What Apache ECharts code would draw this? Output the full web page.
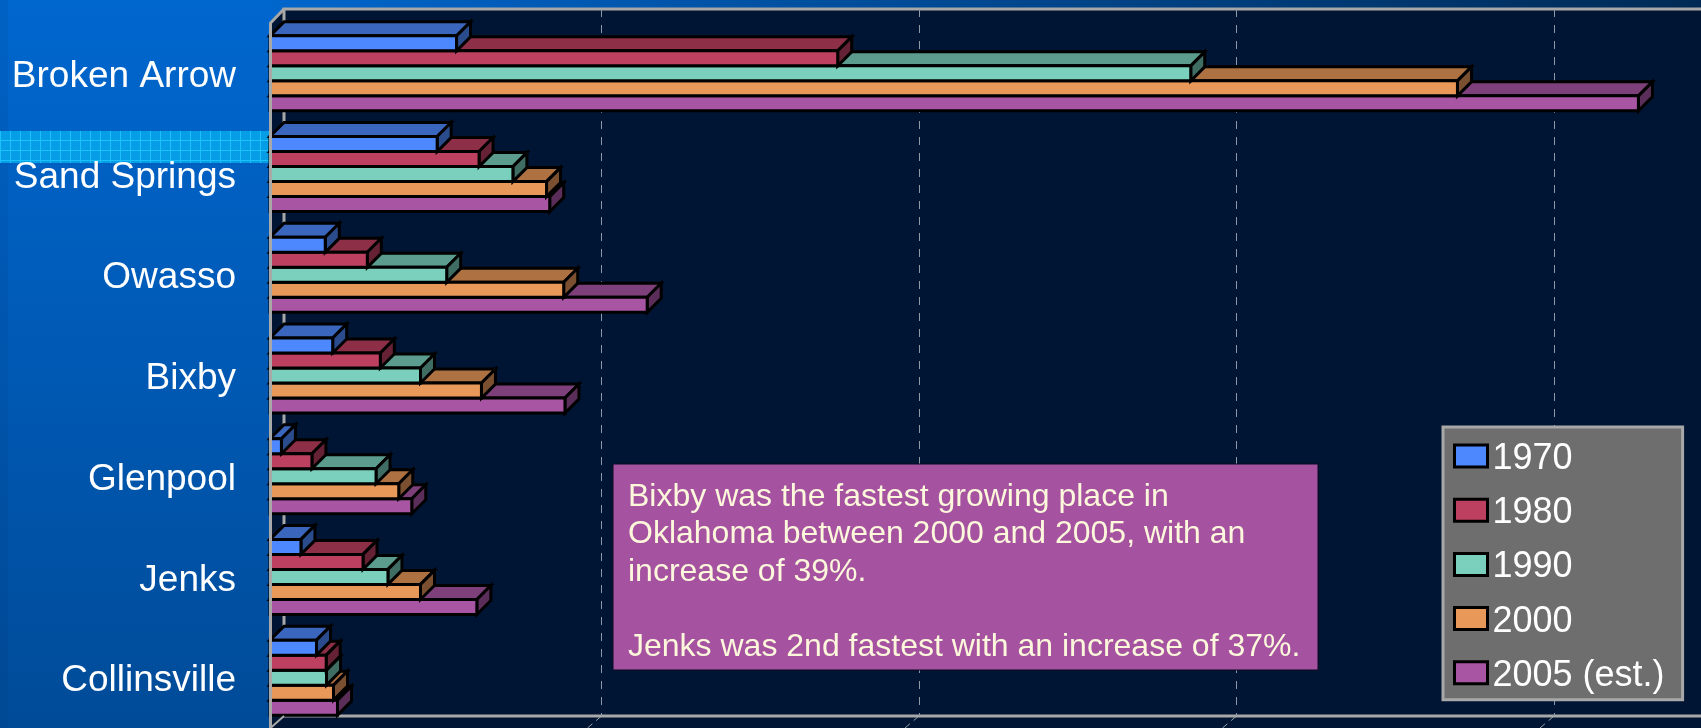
<!DOCTYPE html>
<html>
<head>
<meta charset="utf-8">
<title>Population by city</title>
<style>
  html, body { margin: 0; padding: 0; background: #0066cc; }
  #container { width: 1701px; height: 728px; }
</style>
<script src="https://cdn.jsdelivr.net/npm/echarts@6/dist/echarts.min.js"></script>
</head>
<body>
<div id="container"></div>
<script>
var cities = ['Broken Arrow', 'Sand Springs', 'Owasso', 'Bixby', 'Glenpool', 'Jenks', 'Collinsville'];
var years = ['1970', '1980', '1990', '2000', '2005 (est.)'];

var pop1970 = [11750, 10530, 3480, 3950, 720, 1950, 2930];
var pop1980 = [35760, 13170, 6130, 6950, 2640, 5860, 3540];
var pop1990 = [58000, 15300, 11130, 9480, 6680, 7430, 3560];
var pop2000 = [74800, 17420, 18500, 13320, 8110, 9480, 4000];
var pop2005 = [86200, 17620, 23760, 18580, 8930, 13030, 4250];
var popBySeries = [pop1970, pop1980, pop1990, pop2000, pop2005];

// front, top, side
var shades = [
  ['#4d88ff', '#3a66bd', '#2a4c8c'],
  ['#be4060', '#8c2f47', '#642234'],
  ['#7ad0bd', '#5b9c8e', '#3f6d63'],
  ['#e89858', '#ad7142', '#7b5030'],
  ['#a855a4', '#7e407b', '#5a2e58']
];

var xMax = 100000;
var xStep = 20000;
var tickPx = 317.5;
var depthX = 14;
var depthY = 14;

var note = 'Bixby was the fastest growing place in\nOklahoma between 2000 and 2005, with an\nincrease of 39%.\n\nJenks was 2nd fastest with an increase of 37%.';

var dom = document.getElementById('container');
var myChart = echarts.init(dom, null, { renderer: 'canvas' });

function barItem(i) {
  return function (params, api) {
    var band = api.size([0, 1])[1];
    var h = band * 0.149;
    var base = api.coord([0, api.value(1)]);
    var end = api.coord([api.value(0), api.value(1)]);
    var y0 = base[1] + (i - 2.5) * h;
    var y1 = y0 + h;
    var x0 = base[0];
    var x1 = end[0];
    var stroke = { stroke: '#000', lineWidth: 3, lineJoin: 'miter' };
    function face(points, fill) {
      return {
        type: 'polygon',
        shape: { points: points },
        style: Object.assign({ fill: fill }, stroke)
      };
    }
    return {
      type: 'group',
      children: [
        face([[x0, y0], [x0 + depthX, y0 - depthY], [x1 + depthX, y0 - depthY], [x1, y0]], shades[i][1]),
        face([[x1, y0], [x1 + depthX, y0 - depthY], [x1 + depthX, y1 - depthY], [x1, y1]], shades[i][2]),
        face([[x0, y0], [x1, y0], [x1, y1], [x0, y1]], shades[i][0])
      ]
    };
  };
}

// cyan strip texture
var tex = document.createElement('canvas');
tex.width = 10;
tex.height = 10;
var ctx = tex.getContext('2d');
ctx.fillStyle = '#00a2ea';
ctx.fillRect(0, 0, 10, 10);
ctx.fillStyle = '#0a98e2';
for (var a = 0; a < 10; a++) {
  for (var b = 0; b < 10; b++) {
    if ((a + b) % 2) ctx.fillRect(a, b, 1, 1);
  }
}
ctx.fillStyle = '#1cc0fb';
ctx.fillRect(0, 0, 1, 10);
ctx.fillRect(0, 0, 10, 1);

var floorTicks = [1, 2, 3, 4].map(function (k) {
  return {
    type: 'line',
    z: -1,
    shape: { x1: 284 + k * tickPx, y1: 716, x2: 284 + k * tickPx - depthX, y2: 728 },
    style: { stroke: '#9aa3ad', lineWidth: 1, lineDash: [7, 5] }
  };
});

var option = {
  animation: false,
  graphic: [
    {
      type: 'rect', z: -5, silent: true,
      shape: { x: 0, y: 0, width: 1701, height: 728 },
      style: { fill: new echarts.graphic.LinearGradient(0, 0, 0, 1, [
        { offset: 0, color: '#0067cf' }, { offset: 1, color: '#004b98' }
      ]) }
    },
    {
      type: 'rect', z: -5, silent: true,
      shape: { x: 0, y: 0, width: 8, height: 728 },
      style: { fill: 'rgba(0,40,90,0.08)' }
    },
    {
      type: 'rect', z: -4, silent: true,
      shape: { x: 270, y: 0, width: 1431, height: 10 },
      style: { fill: new echarts.graphic.LinearGradient(0, 0, 1, 0, [
        { offset: 0, color: '#0066cc' }, { offset: 1, color: '#002a55' }
      ]) }
    },
    {
      type: 'rect', z: -4, silent: true,
      shape: { x: 0, y: 131, width: 270, height: 32 },
      style: { fill: { image: tex, repeat: 'repeat' } }
    },
    {
      type: 'polygon', z: -3, silent: true,
      shape: { points: [[270, 23], [284, 9], [1701, 9], [1701, 728], [270, 728]] },
      style: { fill: '#001533' }
    }
  ].concat(floorTicks).concat([
    {
      type: 'polyline', z: 50, silent: true,
      shape: { points: [[270.5, 728], [270.5, 23], [284, 9]] },
      style: { fill: 'none', stroke: '#a8a8a8', lineWidth: 3 }
    },
    {
      type: 'line', z: 50, silent: true,
      shape: { x1: 270.5, y1: 728, x2: 284, y2: 716 },
      style: { stroke: '#a8a8a8', lineWidth: 2 }
    },
    {
      type: 'rect', z: 60, silent: true,
      shape: { x: 613, y: 464, width: 705, height: 206 },
      style: { fill: '#a553a0', stroke: '#0a0a20', lineWidth: 1 }
    },
    {
      type: 'text', z: 61, silent: true,
      x: 628, y: 478,
      style: {
        text: note,
        fill: '#fdf8dc',
        font: '32px "Liberation Sans", Arial, sans-serif',
        lineHeight: 37.5
      }
    }
  ]),
  grid: [
    { left: 284, top: 9, width: xMax / xStep * tickPx, height: 707, show: true, outerBoundsMode: 'none',
      backgroundColor: 'transparent', borderColor: '#a8a8a8', borderWidth: 3 },
    { left: 270, top: 23, width: xMax / xStep * tickPx, height: 705, outerBoundsMode: 'none' }
  ],
  xAxis: [
    {
      gridIndex: 0, type: 'value', min: 0, max: xMax, interval: xStep,
      axisLine: { show: false }, axisTick: { show: false }, axisLabel: { show: false },
      splitLine: { show: true, showMinLine: false, lineStyle: { color: '#8f9aa8', width: 1, type: [8, 8] } }
    },
    {
      gridIndex: 1, type: 'value', min: 0, max: xMax, interval: xStep,
      axisLine: { show: false }, axisTick: { show: false }, axisLabel: { show: false },
      splitLine: { show: false }
    }
  ],
  yAxis: [
    {
      gridIndex: 0, type: 'category', data: cities, inverse: true,
      axisLine: { show: false }, axisTick: { show: false }, axisLabel: { show: false },
      splitLine: { show: false }
    },
    {
      gridIndex: 1, type: 'category', data: cities, inverse: true,
      axisLine: { show: false }, axisTick: { show: false }, splitLine: { show: false },
      axisLabel: {
        color: '#fff',
        fontSize: 37,
        fontFamily: '"Liberation Sans", Arial, sans-serif',
        margin: 34,
        verticalAlign: 'top',
        lineHeight: 7
      }
    }
  ],
  legend: {
    orient: 'vertical',
    left: 1443,
    top: 427,
    padding: [14, 18, 6, 10],
    backgroundColor: '#6e6e6e',
    borderColor: '#a8a8a8',
    borderWidth: 3,
    borderRadius: 0,
    itemWidth: 33,
    itemHeight: 22,
    itemGap: 18.2,
    selectedMode: false,
    formatter: function (name) {
      return '{t|' + name + '}';
    },
    textStyle: {
      rich: {
        t: {
          color: '#fff',
          fontSize: 36,
          padding: [6, 0, 0, 0],
          fontFamily: '"Liberation Sans", Arial, sans-serif'
        }
      }
    },
    data: years.map(function (name, i) {
      return {
        name: name,
        icon: 'rect',
        itemStyle: { color: shades[i][0], borderColor: '#000', borderWidth: 3 }
      };
    })
  },
  series: years.map(function (name, i) {
    return {
      name: name,
      type: 'custom',
      xAxisIndex: 1,
      yAxisIndex: 1,
      z: 10 - i,
      clip: false,
      silent: true,
      itemStyle: { color: shades[i][0] },
      renderItem: barItem(i),
      encode: { x: 0, y: 1 },
      data: popBySeries[i].map(function (v, c) { return [v, c]; })
    };
  })
};

if (option && typeof option === 'object') {
  myChart.setOption(option);
}
window.addEventListener('resize', myChart.resize);
</script>
</body>
</html>
